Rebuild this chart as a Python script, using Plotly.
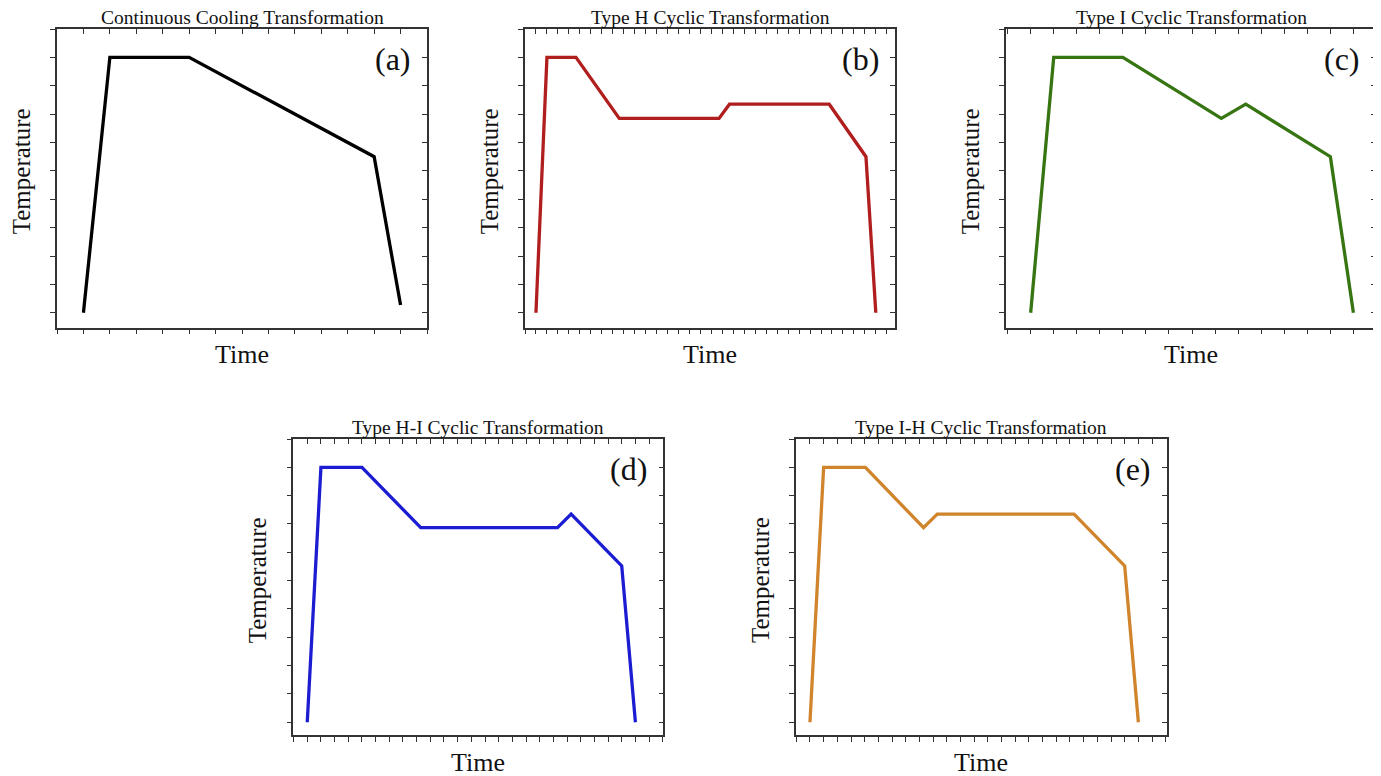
import plotly.graph_objects as go

# the page body has an 8px margin, so the figure starts at (8, 8) in the window
OFF = 8
W, H = 1381 - OFF, 776 - OFF

# ---------------- data ----------------
a_time = [0, 1, 4, 11, 12]
a_temp = [0, 9, 9, 5.5, 0.27]

b_time = [0, 1, 3.65, 7.6, 16.7, 17.65, 26.75, 30.1, 31]
b_temp = [0, 9, 9, 6.85, 6.85, 7.35, 7.35, 5.5, 0]

c_time = [0, 1, 4, 8.27, 9.33, 13, 14]
c_temp = [0, 9, 9, 6.85, 7.35, 5.5, 0]

d_time = [0, 1, 4, 8.3, 18.3, 19.3, 23, 24]
d_temp = [0, 9, 9, 6.87, 6.87, 7.35, 5.52, 0]

e_time = [0, 1, 4.05, 8.3, 9.3, 19.3, 23, 24]
e_temp = [0, 9, 9, 6.87, 7.35, 7.35, 5.52, 0]

titles = ["Continuous Cooling Transformation",
          "Type H Cyclic Transformation",
          "Type I Cyclic Transformation",
          "Type H-I Cyclic Transformation",
          "Type I-H Cyclic Transformation"]
labels = ["(a)", "(b)", "(c)", "(d)", "(e)"]
x_title = "Time"
y_title = "Temperature"

# ---------------- styling / layout ----------------
colors = ["#000000", "#B01E1E", "#367511", "#1C1CD2", "#D0842C"]
# panel boxes in window pixels: left, top, right, bottom
boxes = [(57, 29, 427, 327.5),
         (525, 29, 895, 327.5),
         (1006, 29, 1376, 327.5),
         (293.3, 439, 663.3, 735),
         (796, 439, 1166.7, 735)]
x_ranges = [[-1, 13], [-1, 32.75], [-1.07, 14.98], [-1.02, 26.04], [-1.02, 26.07]]
y_ranges = [[-0.52, 10], [-0.52, 10], [-0.52, 10], [-0.45, 10], [-0.45, 10]]

series = [(a_time, a_temp), (b_time, b_temp), (c_time, c_temp),
          (d_time, d_temp), (e_time, e_temp)]

FONT = "Liberation Serif, Times New Roman, serif"
AX = "#333333"
TXT = "#111111"

fig = go.Figure()
layout = dict(width=W, height=H, margin=dict(l=0, r=0, t=0, b=0),
              paper_bgcolor="white", plot_bgcolor="white",
              showlegend=False, font=dict(family=FONT, color=TXT))
annotations = []

def axname(n, kind):
    return kind if n == 1 else f"{kind}{n}"

for i, ((xs, ys), box, xr, yr, col, ttl, lab) in enumerate(
        zip(series, boxes, x_ranges, y_ranges, colors, titles, labels)):
    l, t, r, b = box
    xd = [(l - OFF) / W, (r - OFF) / W]
    yd = [1 - (b - OFF) / H, 1 - (t - OFF) / H]
    p = 2 * i + 1      # primary axis number
    o = 2 * i + 2      # overlay (mirror) axis number
    xp, xo = axname(p, "x"), axname(o, "x")
    yp, yo = axname(p, "y"), axname(o, "y")

    common = dict(showgrid=False, zeroline=False, showticklabels=False,
                  showline=True, linecolor=AX, linewidth=1.5,
                  tickcolor=AX, tickwidth=1.2, ticklen=5,
                  tick0=0, dtick=1, fixedrange=True)

    layout[axname(p, "xaxis")] = dict(common, domain=xd, range=xr, anchor=yp,
                                      side="bottom", ticks="outside")
    layout[axname(o, "xaxis")] = dict(common, range=xr, anchor=yp, overlaying=xp,
                                      side="top", ticks="inside", matches=xp)
    layout[axname(p, "yaxis")] = dict(common, domain=yd, range=yr, anchor=xp,
                                      side="left", ticks="outside")
    layout[axname(o, "yaxis")] = dict(common, range=yr, anchor=xp, overlaying=yp,
                                      side="right", ticks="inside", matches=yp)

    fig.add_trace(go.Scatter(x=xs, y=ys, mode="lines",
                             line=dict(color=col, width=3.3),
                             xaxis=xp, yaxis=yp, hoverinfo="skip"))
    # invisible trace so that the mirrored (top/right) axes are drawn
    fig.add_trace(go.Scatter(x=[xs[0]], y=[ys[0]], mode="markers",
                             marker=dict(opacity=0), xaxis=xo, yaxis=yo,
                             hoverinfo="skip"))

    annotations.append(dict(text=ttl, x=0.5, y=1, xref=f"{xp} domain", yref=f"{yp} domain",
                            xanchor="center", yanchor="bottom", yshift=-1,
                            showarrow=False, font=dict(size=19.5, family=FONT, color=TXT)))
    annotations.append(dict(text=x_title, x=0.5, y=0, xref=f"{xp} domain", yref=f"{yp} domain",
                            xanchor="center", yanchor="middle", yshift=-27,
                            showarrow=False, font=dict(size=26, family=FONT, color=TXT)))
    annotations.append(dict(text=y_title, x=0, y=0.5, xref=f"{xp} domain", yref=f"{yp} domain",
                            xanchor="center", yanchor="middle", xshift=-36, yshift=7,
                            textangle=-90,
                            showarrow=False, font=dict(size=25, family=FONT, color=TXT)))
    annotations.append(dict(text=lab, x=1, y=1, xref=f"{xp} domain", yref=f"{yp} domain",
                            xanchor="right", yanchor="middle", xshift=-14, yshift=-30,
                            showarrow=False, font=dict(size=32, family=FONT, color=TXT)))

layout["annotations"] = annotations
fig.update_layout(**layout)
fig.write_html("out.html")
